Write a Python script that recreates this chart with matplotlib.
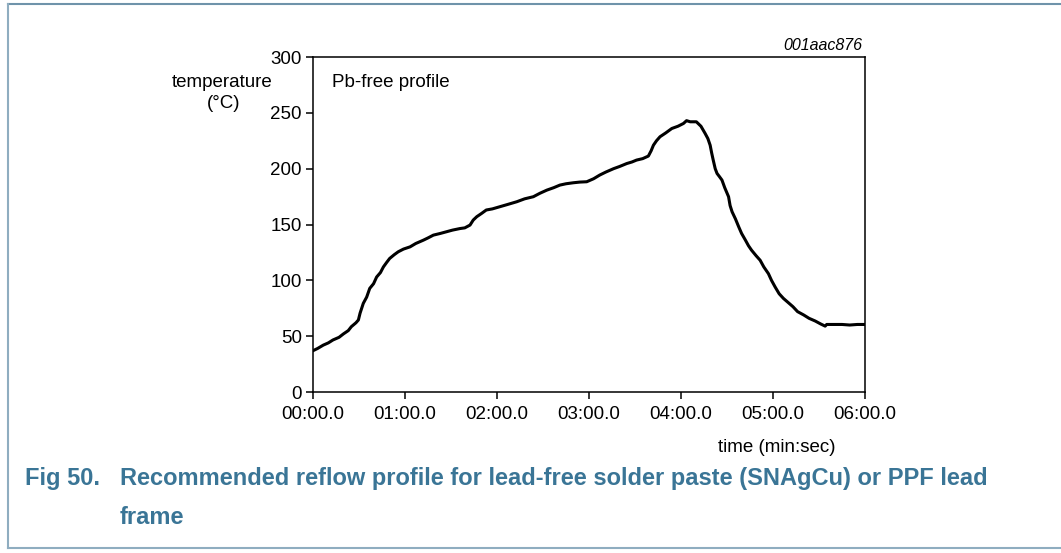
import matplotlib.pyplot as plt
from matplotlib.lines import Line2D
from matplotlib.ticker import FuncFormatter

plt.rcParams['font.family'] = ['Liberation Sans', 'DejaVu Sans']

# reflow profile (seconds, deg C)
time_s = [0, 3, 6.7, 10, 13, 17, 19.8, 23, 25, 28, 29.6, 30.7, 32.8, 35, 37, 39.5,
          41.5, 44, 45.9, 48, 50, 53, 55.6, 59, 63.3, 67, 72, 75, 78.5, 83, 87,
          91, 95.9, 99, 102.4, 104.5, 106.8, 110, 113, 117, 122, 127, 132.9,
          138, 143.7, 148, 152.5, 157, 161, 165, 169.8, 174, 178.5, 183, 187,
          191, 196, 200, 204.6, 208, 211, 215, 218.7, 220.5, 222, 224, 226.3,
          230, 234, 238, 241.6, 243.6, 246, 250, 253, 255.7, 257.5, 259, 260,
          261, 262.3, 263.5, 265, 266.7, 268.5, 271, 272, 273.3, 275.5, 277.6,
          279.5, 282, 284, 286, 289, 291.6, 294, 297, 299, 301.4, 304, 306.8,
          310, 313, 316, 320, 323.5, 327.5, 331, 334, 335, 340, 345, 350, 355,
          360]
temp_c = [37, 39, 42, 44, 46.6, 49, 52, 55, 58.5, 62, 64.5, 70.6, 79.4, 85, 92.8, 97,
          103, 107, 112, 116, 119.6, 123, 125.6, 128, 130, 133, 136, 138, 140.5,
          142, 143.5, 145, 146.4, 147, 149.5, 154, 157, 160, 163, 164, 166, 168,
          170.4, 173, 174.9, 178, 180.8, 183, 185.3, 186.5, 187.4, 188, 188.3,
          191, 194.3, 197, 200, 202, 204.6, 206, 207.7, 209, 211.3, 216, 221,
          225, 228.6, 232, 236, 238, 240.5, 243, 242, 242, 238, 231.6, 227, 221,
          214, 207.7, 200, 195.7, 193, 189.8, 183, 174.9, 167, 161.4, 155, 148,
          142, 136, 131, 127, 122, 118, 112, 106, 100, 94, 88, 83.8, 80, 76.4,
          72, 69, 66, 63.6, 61, 59, 60.5, 60.5, 60.5, 60, 60.5, 60.5]

y_ticks = [0, 50, 100, 150, 200, 250, 300]
x_ticks = [0, 60, 120, 180, 240, 300, 360]


def mmss(v, pos):
    m = int(v // 60)
    s = v - m * 60
    return '%02d:%04.1f' % (m, s)


fig = plt.figure(figsize=(10.61, 5.53), dpi=100)
ax = fig.add_axes([0.295, 0.2911, 0.5203, 0.6058])

ax.plot(time_s, temp_c, color='black', linewidth=2.2)

ax.set_xlim(0, 360)
ax.set_ylim(0, 300)
ax.set_xticks(x_ticks)
ax.set_yticks(y_ticks)
ax.xaxis.set_major_formatter(FuncFormatter(mmss))
ax.tick_params(direction='out', length=5, width=1.1, labelsize=13.5, colors='black')
ax.tick_params(axis='x', pad=5)
ax.tick_params(axis='y', pad=3)
for sp in ax.spines.values():
    sp.set_linewidth(1.1)

ax.text(0.035, 0.925, 'Pb-free profile', transform=ax.transAxes, fontsize=13.5,
        va='center', ha='left')
fig.text(862 / 1061, 1 - 45 / 553, '001aac876', fontsize=11.5, style='italic',
         ha='right', va='center')
fig.text(273 / 1061, 1 - 82 / 553, 'temperature', fontsize=13.5, ha='right', va='center')
fig.text(224 / 1061, 1 - 104 / 553, '(°C)', fontsize=13.5, ha='center', va='center')
fig.text(835 / 1061, 1 - 447 / 553, 'time (min:sec)', fontsize=13.5, ha='right', va='center')

# caption in the document's blue
cap = '#3a7596'
fig.text(25 / 1061, 1 - 479 / 553, 'Fig 50.', fontsize=17, weight='bold', color=cap,
         ha='left', va='center')
fig.text(120 / 1061, 1 - 479 / 553,
         'Recommended reflow profile for lead-free solder paste (SNAgCu) or PPF lead',
         fontsize=17, weight='bold', color=cap, ha='left', va='center')
fig.text(120 / 1061, 1 - 517 / 553, 'frame', fontsize=17, weight='bold', color=cap,
         ha='left', va='center')

# figure frame: top, left and bottom rules
frame = '#8fadc0'
x0, x1 = 8 / 1061, 1.0
y0, y1 = 1 - 548 / 553, 1 - 4 / 553
fig.add_artist(Line2D([x0, x1], [y1, y1], color='#6f93aa', linewidth=1.5, transform=fig.transFigure))
fig.add_artist(Line2D([x0, x0], [y0, y1], color=frame, linewidth=1.5, transform=fig.transFigure))
fig.add_artist(Line2D([x0, x1], [y0, y0], color=frame, linewidth=1.5, transform=fig.transFigure))

fig.savefig('out.png', dpi=100)
plt.close()
